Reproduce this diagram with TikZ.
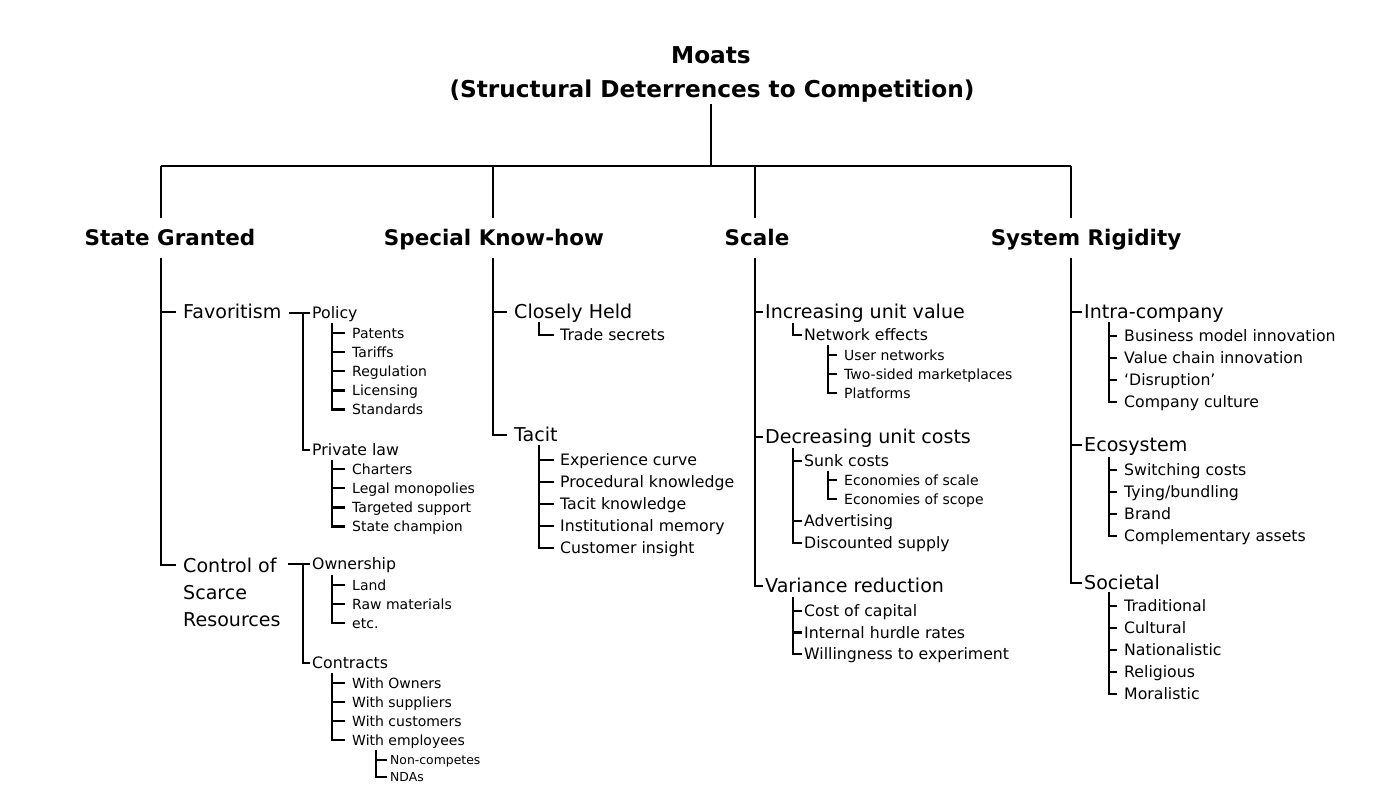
\documentclass[tikz,border=0pt]{standalone}
\usepackage{fontspec}
\setmainfont{DejaVu Sans}
\usetikzlibrary{calc}
\usetikzlibrary{positioning}

\newcommand{\fTitle}{\bfseries\fontsize{17.4}{21}\selectfont}
\newcommand{\fHead}{\bfseries\fontsize{16.1}{19}\selectfont}
\newcommand{\fA}{\fontsize{14.3}{20.25}\selectfont}
\newcommand{\fB}{\fontsize{11.8}{14}\selectfont}
\newcommand{\fC}{\fontsize{10.5}{12.5}\selectfont}
\newcommand{\fD}{\fontsize{9.3}{11}\selectfont}

\begin{document}
\begin{tikzpicture}[x=0.75pt, y=-0.75pt, line width=1.8pt,
    title/.style={font=\fTitle, text height=12.6pt, text depth=0pt, inner ysep=4.2pt},
    head/.style={font=\fHead, text height=11.7pt, text depth=0pt, inner xsep=0pt, inner ysep=8.6pt},
    lvA/.style={anchor=west, font=\fA, text height=10.4pt, text depth=0pt, inner ysep=1pt, inner xsep=#1},
    lvA/.default=4.5pt,
    lvB/.style={anchor=west, font=\fB, text height=8.6pt, text depth=0pt, inner ysep=1pt, inner xsep=#1},
    lvB/.default=0.75pt,
    lvC/.style={anchor=west, font=\fC, text height=7.6pt, text depth=0pt, inner ysep=1pt, inner xsep=#1},
    lvC/.default=4.5pt,
    lvD/.style={anchor=west, font=\fD, text height=6.8pt, text depth=0pt, inner ysep=1pt, inner xsep=1.5pt}]
    \useasboundingbox (0,0) rectangle (1374,797);

    % title and main branches
    \node[title] (moats) at (711,55) {Moats};
    \node[title] (sub) at (712,89) {(Structural Deterrences to Competition)};
    \coordinate (bar) at (711,166);
    \coordinate (c1) at (161,166);
    \coordinate (c2) at (493,166);
    \coordinate (c3) at (755,166);
    \coordinate (c4) at (1071,166);
    \node[head] (sg) at (170,238) {State Granted};
    \node[head] (kh) at (494,238) {Special Know-how};
    \node[head] (sc) at (757,238) {Scale};
    \node[head] (sr) at (1086,238) {System Rigidity};
    \draw[line width=1.5pt] (sub.south -| bar) -- (bar);
    \draw[line width=1.5pt] (c1) -- (c4);
    \foreach \c/\h in {c1/sg, c2/kh, c3/sc, c4/sr}
        \draw[line width=1.5pt] (\c) -- (\c |- \h.north);

    % State Granted
    \node[lvA] (fav) at (176,312) {Favoritism};
    \node[anchor=north west, font=\fA, align=left, inner xsep=4.5pt, inner ysep=0pt] (ctrl) at (176,557) {Control of\\Scarce\\Resources};
    \coordinate (ctrlT) at (176,565);
    \draw (c1 |- sg.south) |- (ctrlT);
    \draw (c1 |- fav.west) -- (fav.west);

    \node[lvB] (pol) at (310,313) {Policy};
    \node[lvB] (prv) at (310,450) {Private law};
    \coordinate (favV) at (303,313);
    \draw (fav.east |- pol.west) -- (pol.west);
    \draw (favV) |- (prv.west);
    \coordinate (polV) at (332,323);
    \foreach \t [count=\i from 1] in {Patents, Tariffs, Regulation, Licensing, Standards}
    {
        \node[lvC] (pol\i) at (345,{333+19.1*(\i-1)}) {\t};
        \draw (polV) |- (pol\i.west);
    }
    \coordinate (prvV) at (332,460);
    \foreach \t [count=\i from 1] in {Charters, Legal monopolies, Targeted support, State champion}
    {
        \node[lvC] (prv\i) at (345,{469+19.2*(\i-1)}) {\t};
        \draw (prvV) |- (prv\i.west);
    }

    \node[lvB] (own) at (310,564) {Ownership};
    \node[lvB] (con) at (310,663) {Contracts};
    \coordinate (ctrlV) at (303,564);
    \draw (ctrl.east |- own.west) -- (own.west);
    \draw (ctrlV) |- (con.west);
    \coordinate (ownV) at (332,575);
    \foreach \t [count=\i from 1] in {Land, Raw materials, etc.}
    {
        \node[lvC] (own\i) at (345,{585+19*(\i-1)}) {\t};
        \draw (ownV) |- (own\i.west);
    }
    \coordinate (conV) at (332,673);
    \foreach \t [count=\i from 1] in {With Owners, With suppliers, With customers, With employees}
    {
        \node[lvC] (con\i) at (345,{683+19*(\i-1)}) {\t};
        \draw (conV) |- (con\i.west);
    }
    \coordinate (empV) at (376,750);
    \foreach \t [count=\i from 1] in {Non-competes, NDAs}
    {
        \node[lvD] (emp\i) at (387,{760+17*(\i-1)}) {\t};
        \draw (empV) |- (emp\i.west);
    }

    % Special Know-how
    \node[lvA] (held) at (507,312) {Closely Held};
    \node[lvA] (tac) at (507,435) {Tacit};
    \draw (c2 |- kh.south) |- (tac.west);
    \draw (c2 |- held.west) -- (held.west);
    \coordinate (heldV) at (539,322);
    \node[lvB=3.75pt] (trade) at (554,335) {Trade secrets};
    \draw (heldV) |- (trade.west);
    \coordinate (tacV) at (539,445);
    \foreach \t [count=\i from 1] in {Experience curve, Procedural knowledge, Tacit knowledge, Institutional memory, Customer insight}
    {
        \node[lvB=3.75pt] (tac\i) at (554,{460+22*(\i-1)}) {\t};
        \draw (tacV) |- (tac\i.west);
    }

    % Scale
    \node[lvA=0.75pt] (inc) at (763,312) {Increasing unit value};
    \node[lvA=0.75pt] (dec) at (763,437) {Decreasing unit costs};
    \node[lvA=0.75pt] (var) at (763,586) {Variance reduction};
    \draw (c3 |- sc.south) |- (var.west);
    \foreach \n in {inc, dec}
        \draw (c3 |- \n.west) -- (\n.west);
    \coordinate (incV) at (793,323);
    \node[lvB] (net) at (802,335) {Network effects};
    \draw (incV) |- (net.west);
    \coordinate (netV) at (828,345);
    \foreach \t [count=\i from 1] in {User networks, Two-sided marketplaces, Platforms}
    {
        \node[lvC] (net\i) at (837,{355+19*(\i-1)}) {\t};
        \draw (netV) |- (net\i.west);
    }
    \coordinate (decV) at (793,448);
    \node[lvB] (sunk) at (802,461) {Sunk costs};
    \node[lvB] (adv) at (802,521) {Advertising};
    \node[lvB] (disc) at (802,543) {Discounted supply};
    \draw (decV) |- (disc.west);
    \foreach \n in {sunk, adv}
        \draw (decV |- \n.west) -- (\n.west);
    \coordinate (sunkV) at (828,471);
    \foreach \t [count=\i from 1] in {Economies of scale, Economies of scope}
    {
        \node[lvC] (sunk\i) at (837,{480+19*(\i-1)}) {\t};
        \draw (sunkV) |- (sunk\i.west);
    }
    \coordinate (varV) at (793,597);
    \foreach \t [count=\i from 1] in {Cost of capital, Internal hurdle rates, Willingness to experiment}
    {
        \node[lvB] (var\i) at (802,{611+21.5*(\i-1)}) {\t};
        \draw (varV) |- (var\i.west);
    }

    % System Rigidity
    \node[lvA=0.75pt] (intra) at (1082,312) {Intra-company};
    \node[lvA=0.75pt] (eco) at (1082,445) {Ecosystem};
    \node[lvA=0.75pt] (soc) at (1082,583) {Societal};
    \draw (c4 |- sr.south) |- (soc.west);
    \foreach \n in {intra, eco}
        \draw (c4 |- \n.west) -- (\n.west);
    \coordinate (intraV) at (1109,322);
    \foreach \t [count=\i from 1] in {Business model innovation, Value chain innovation, ‘Disruption’, Company culture}
    {
        \node[lvB=4.5pt] (intra\i) at (1117,{336+22*(\i-1)}) {\t};
        \draw (intraV) |- (intra\i.west);
    }
    \coordinate (ecoV) at (1109,457);
    \foreach \t [count=\i from 1] in {Switching costs, Tying/bundling, Brand, Complementary assets}
    {
        \node[lvB=4.5pt] (eco\i) at (1117,{470+22*(\i-1)}) {\t};
        \draw (ecoV) |- (eco\i.west);
    }
    \coordinate (socV) at (1109,592);
    \foreach \t [count=\i from 1] in {Traditional, Cultural, Nationalistic, Religious, Moralistic}
    {
        \node[lvB=4.5pt] (soc\i) at (1117,{606+22*(\i-1)}) {\t};
        \draw (socV) |- (soc\i.west);
    }
\end{tikzpicture}
\end{document}
